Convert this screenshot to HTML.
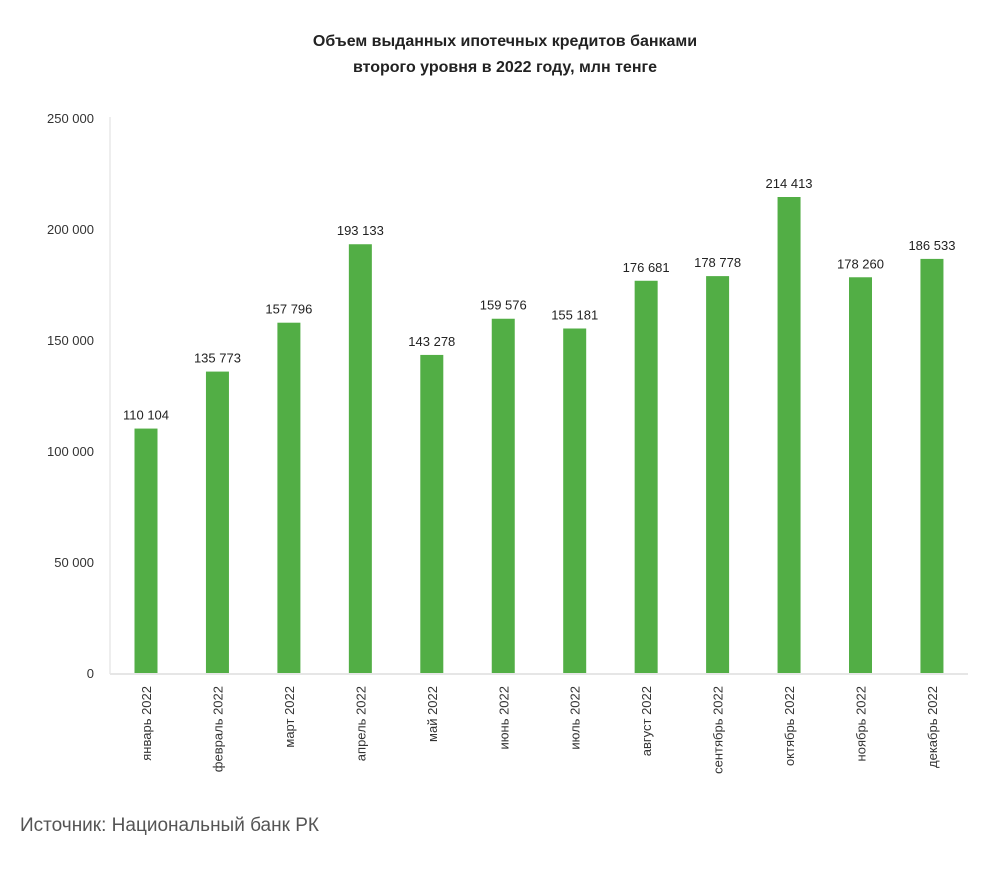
<!DOCTYPE html>
<html><head><meta charset="utf-8"><style>
body{margin:0;background:#fff;}
svg text{font-family:"Liberation Sans",sans-serif;}
</style></head><body>
<svg width="999" height="865" xmlns="http://www.w3.org/2000/svg">
<text x="505" y="46" text-anchor="middle" font-size="16" font-weight="bold" fill="#222">Объем выданных ипотечных кредитов банками</text>
<text x="505" y="72" text-anchor="middle" font-size="16" font-weight="bold" fill="#222">второго уровня в 2022 году, млн тенге</text>
<line x1="110" y1="117" x2="110" y2="674" stroke="#eee" stroke-width="2"/>
<line x1="110" y1="674" x2="968" y2="674" stroke="#e6e6e6" stroke-width="2"/>
<g font-size="13" fill="#333" text-anchor="end">
<text x="94" y="123">250 000</text>
<text x="94" y="234">200 000</text>
<text x="94" y="345">150 000</text>
<text x="94" y="456">100 000</text>
<text x="94" y="567">50 000</text>
<text x="94" y="678">0</text>
</g>
<g id="bars"></g>
</svg>
<script>
var v=[110104,135773,157796,193133,143278,159576,155181,176681,178778,214413,178260,186533];
var n=["январь 2022","февраль 2022","март 2022","апрель 2022","май 2022","июнь 2022","июль 2022","август 2022","сентябрь 2022","октябрь 2022","ноябрь 2022","декабрь 2022"];
var g=document.getElementById('bars'),h='';
for(var i=0;i<12;i++){var cx=146+i*71.45,y=673-v[i]*555/250000;
h+='<rect x="'+(cx-11.5)+'" y="'+y+'" width="23" height="'+(673-y)+'" fill="#52ae45"/>';
var s=String(v[i]);s=s.slice(0,s.length-3)+' '+s.slice(-3);
h+='<text x="'+cx+'" y="'+(y-9)+'" text-anchor="middle" font-size="13" fill="#222">'+s+'</text>';
h+='<text transform="translate('+(cx+5)+',686) rotate(-90)" text-anchor="end" font-size="13" fill="#333">'+n[i]+'</text>';}
g.innerHTML=h;
</script>
<div style="position:absolute;left:20px;top:815px;font:19px 'Liberation Sans',sans-serif;color:#555;">Источник: Национальный банк РК</div>
</body></html>
